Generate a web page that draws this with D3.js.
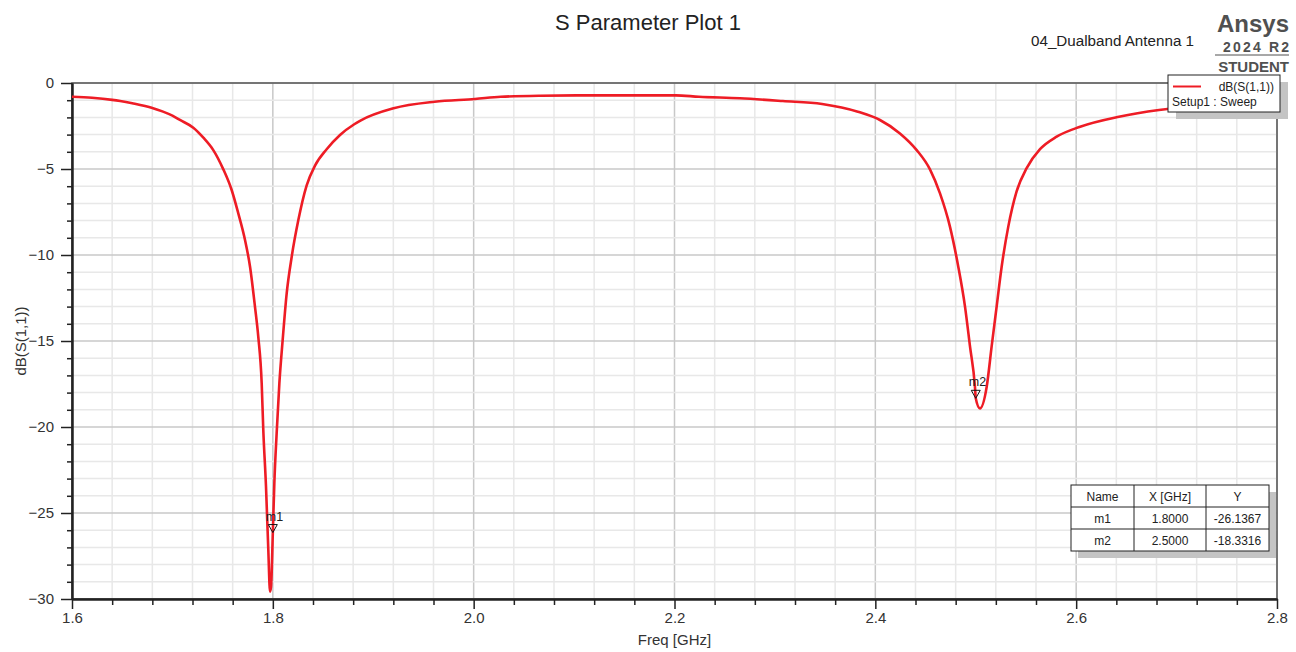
<!DOCTYPE html>
<html>
<head>
<meta charset="utf-8">
<script src="https://cdn.jsdelivr.net/npm/d3@7"></script>
<style>
  body { margin: 0; background: #fff; }
  text { font-family: Arial, "Liberation Sans", sans-serif; }
</style>
</head>
<body>
<svg id="chart" width="1296" height="652"></svg>
<script>
// values
const freq = [1.600, 1.620, 1.640, 1.648, 1.660, 1.680, 1.690, 1.700, 1.7075, 1.7208,
  1.7308, 1.7407, 1.7507, 1.7590, 1.7656, 1.7723, 1.7773, 1.7822, 1.7855, 1.7889,
  1.7905, 1.7932, 1.7955, 1.7972, 1.7982, 1.8000, 1.8015, 1.8038, 1.8065, 1.8098,
  1.8138, 1.8188, 1.8254, 1.8337, 1.8420, 1.8536, 1.8669, 1.8811, 1.8868, 1.9203,
  1.9611, 2.0013, 2.0269, 2.0661, 2.116, 2.2012, 2.2243, 2.2652, 2.3079, 2.347,
  2.3826, 2.4046, 2.4245, 2.4412, 2.4544, 2.4644, 2.4743, 2.4826, 2.4893, 2.4943,
  2.4992, 2.5000, 2.5042, 2.5109, 2.5158, 2.5208, 2.5258, 2.5324, 2.5407, 2.5507,
  2.5640, 2.5806, 2.6040, 2.6426, 2.6825, 2.7200, 2.7600, 2.8000];
const s11 = [-0.80, -0.86, -0.98, -1.05, -1.18, -1.45, -1.65, -1.90, -2.15, -2.60,
  -3.18, -3.90, -5.02, -6.22, -7.58, -9.13, -10.68, -13.0, -14.75, -17.46,
  -20.17, -23.47, -27.15, -29.57, -29.3, -26.14, -23.27, -20.37, -17.46, -14.94,
  -12.23, -10.1, -7.97, -5.95, -4.80, -3.85, -3.02, -2.40, -2.20, -1.47,
  -1.09, -0.93, -0.80, -0.74, -0.72, -0.72, -0.80, -0.89, -1.05, -1.22,
  -1.67, -2.15, -2.93, -3.90, -5.02, -6.42, -8.35, -10.68, -13.0, -15.33,
  -17.66, -18.33, -18.92, -17.66, -15.33, -13.0, -10.68, -8.35, -6.30, -4.95,
  -3.85, -3.12, -2.54, -1.96, -1.57, -1.35, -1.18, -1.05];

const markerNames = ["m1", "m2"];
const markerX = [1.8000, 2.5000];
const markerY = [-26.1367, -18.3316];

const xTicks = [1.6, 1.8, 2.0, 2.2, 2.4, 2.6, 2.8];
const yTicks = [0, -5, -10, -15, -20, -25, -30];

const svg = d3.select("#chart");
const width = 1296;
const height = 652;
const margin = { top: 83, right: 19, bottom: 53, left: 72 };

const x = d3.scaleLinear()
  .domain([1.6, 2.8])
  .range([margin.left, width - margin.right]);

const y = d3.scaleLinear()
  .domain([-30, 0])
  .range([height - margin.bottom, margin.top]);

// grid
const minorX = d3.range(0, 31).map(i => 1.6 + i * 0.04);
const minorY = d3.range(0, 31).map(i => -i);

const grid = svg.append("g");
grid.selectAll(".gx")
  .data(minorX)
  .enter()
  .append("line")
  .attr("x1", d => x(d)).attr("x2", d => x(d))
  .attr("y1", y(0)).attr("y2", y(-30))
  .attr("stroke", (d, i) => i % 5 === 0 ? "#c8c8c8" : "#e8e8e8")
  .attr("stroke-width", 1.5);
grid.selectAll(".gy")
  .data(minorY)
  .enter()
  .append("line")
  .attr("y1", d => y(d)).attr("y2", d => y(d))
  .attr("x1", x(1.6)).attr("x2", x(2.8))
  .attr("stroke", (d, i) => i % 5 === 0 ? "#c8c8c8" : "#e8e8e8")
  .attr("stroke-width", 1.5);

// frame
svg.append("rect")
  .attr("x", x(1.6)).attr("y", y(0))
  .attr("width", x(2.8) - x(1.6))
  .attr("height", y(-30) - y(0))
  .attr("fill", "none")
  .attr("stroke", "#555")
  .attr("stroke-width", 1.5);

// axes
const xAxis = svg.append("g")
  .attr("transform", `translate(0,${y(-30)})`)
  .call(d3.axisBottom(x).tickValues(xTicks).tickFormat(d3.format(".1f")).tickSize(10).tickSizeOuter(0));
const xMinor = svg.append("g")
  .attr("transform", `translate(0,${y(-30)})`)
  .call(d3.axisBottom(x).tickValues(minorX.filter((d, i) => i % 5 !== 0)).tickFormat("").tickSize(6).tickSizeOuter(0));

const yAxis = svg.append("g")
  .attr("transform", `translate(${x(1.6)},0)`)
  .call(d3.axisLeft(y).tickValues(yTicks).tickSize(11).tickSizeOuter(0));
const yMinor = svg.append("g")
  .attr("transform", `translate(${x(1.6)},0)`)
  .call(d3.axisLeft(y).tickValues(minorY.filter((d, i) => i % 5 !== 0)).tickFormat("").tickSize(5).tickSizeOuter(0));

[xAxis, xMinor, yAxis, yMinor].forEach(g => {
  g.select(".domain").attr("stroke", "#222").attr("stroke-width", 2);
  g.selectAll(".tick line").attr("stroke", "#222").attr("stroke-width", 1.5);
  g.selectAll("text")
    .attr("fill", "#333")
    .style("font-size", "15px")
    .style("font-family", "Arial, 'Liberation Sans', sans-serif");
});
xAxis.selectAll("text").attr("dy", "0.71em").attr("y", 13);
yAxis.selectAll("text").attr("x", -18);

// curve
const line = d3.line()
  .x(d => x(d[0]))
  .y(d => y(d[1]))
  .curve(d3.curveMonotoneX);

svg.append("path")
  .datum(d3.zip(freq, s11))
  .attr("fill", "none")
  .attr("stroke", "#ee1c25")
  .attr("stroke-width", 2.6)
  .attr("stroke-linejoin", "round")
  .attr("d", line);

// markers
const mk = svg.selectAll(".marker")
  .data(markerNames.map((n, i) => ({ name: n, fx: markerX[i], fy: markerY[i] })))
  .enter()
  .append("g")
  .attr("transform", d => `translate(${x(d.fx)},${y(d.fy)})`);
mk.append("path")
  .attr("d", "M0,0 L-4.5,-8 L4.5,-8 Z")
  .attr("fill", "none")
  .attr("stroke", "#111")
  .attr("stroke-width", 1);
mk.append("text")
  .attr("x", -7)
  .attr("y", -12)
  .attr("font-size", "12.5px")
  .attr("fill", "#222")
  .text(d => d.name);

// axis labels
svg.append("text")
  .attr("x", (x(1.6) + x(2.8)) / 2)
  .attr("y", 645)
  .attr("text-anchor", "middle")
  .attr("font-size", "15px")
  .attr("fill", "#333")
  .text("Freq [GHz]");

svg.append("text")
  .attr("transform", `translate(26,${(y(0) + y(-30)) / 2}) rotate(-90)`)
  .attr("text-anchor", "middle")
  .attr("font-size", "15px")
  .attr("fill", "#333")
  .text("dB(S(1,1))");

// titles
svg.append("text")
  .attr("x", 648)
  .attr("y", 30)
  .attr("text-anchor", "middle")
  .attr("font-size", "22px")
  .attr("fill", "#222")
  .text("S Parameter Plot 1");

svg.append("text")
  .attr("x", 1194)
  .attr("y", 46)
  .attr("text-anchor", "end")
  .attr("font-size", "15.2px")
  .attr("fill", "#222")
  .text("04_Dualband Antenna 1");

const logo = svg.append("g").attr("fill", "#505050").attr("font-weight", "bold").attr("text-anchor", "end");
logo.append("text").attr("x", 1289).attr("y", 32).attr("font-size", "24px").text("Ansys");
logo.append("text").attr("x", 1289).attr("y", 52).attr("font-size", "14px").attr("textLength", 66).text("2024 R2");
logo.append("line")
  .attr("x1", 1215).attr("x2", 1289)
  .attr("y1", 55).attr("y2", 55)
  .attr("stroke", "#505050").attr("stroke-width", 1);
logo.append("text").attr("x", 1289).attr("y", 72).attr("font-size", "15px").text("STUDENT");

// legend
const lg = svg.append("g").attr("transform", "translate(1168,75)");
lg.append("rect").attr("x", 8).attr("y", 7).attr("width", 112).attr("height", 37).attr("fill", "#c4c4c4");
lg.append("rect").attr("width", 112).attr("height", 37).attr("fill", "#fff").attr("stroke", "#222").attr("stroke-width", 1);
lg.append("line").attr("x1", 5).attr("x2", 33).attr("y1", 11.5).attr("y2", 11.5)
  .attr("stroke", "#ee1c25").attr("stroke-width", 2);
lg.append("text").attr("x", 106).attr("y", 16).attr("text-anchor", "end").attr("font-size", "12px").attr("fill", "#222").text("dB(S(1,1))");
lg.append("text").attr("x", 4).attr("y", 31).attr("font-size", "12px").attr("fill", "#222").text("Setup1 : Sweep");

// marker table
const colW = [63, 72, 63];
const rowH = 22;
const tbl = svg.append("g").attr("transform", "translate(1071,485)");
const tblW = d3.sum(colW);
const tblH = rowH * 3;
tbl.append("rect").attr("x", 7).attr("y", 7).attr("width", tblW).attr("height", tblH).attr("fill", "#c4c4c4");
tbl.append("rect").attr("width", tblW).attr("height", tblH).attr("fill", "#fff").attr("stroke", "#222").attr("stroke-width", 1);
const rows = [["Name", "X [GHz]", "Y"]].concat(
  markerNames.map((n, i) => [n, markerX[i].toFixed(4), markerY[i].toFixed(4)])
);
const colX = [0, colW[0], colW[0] + colW[1]];
[1, 2].forEach(r => {
  tbl.append("line").attr("x1", 0).attr("x2", tblW).attr("y1", r * rowH).attr("y2", r * rowH).attr("stroke", "#222");
});
[1, 2].forEach(c => {
  tbl.append("line").attr("x1", colX[c]).attr("x2", colX[c]).attr("y1", 0).attr("y2", tblH).attr("stroke", "#222");
});
rows.forEach((row, r) => {
  row.forEach((cell, c) => {
    tbl.append("text")
      .attr("x", colX[c] + colW[c] / 2)
      .attr("y", r * rowH + 15.5)
      .attr("text-anchor", "middle")
      .attr("font-size", "12px")
      .attr("fill", "#222")
      .text(cell);
  });
});
</script>
</body>
</html>
